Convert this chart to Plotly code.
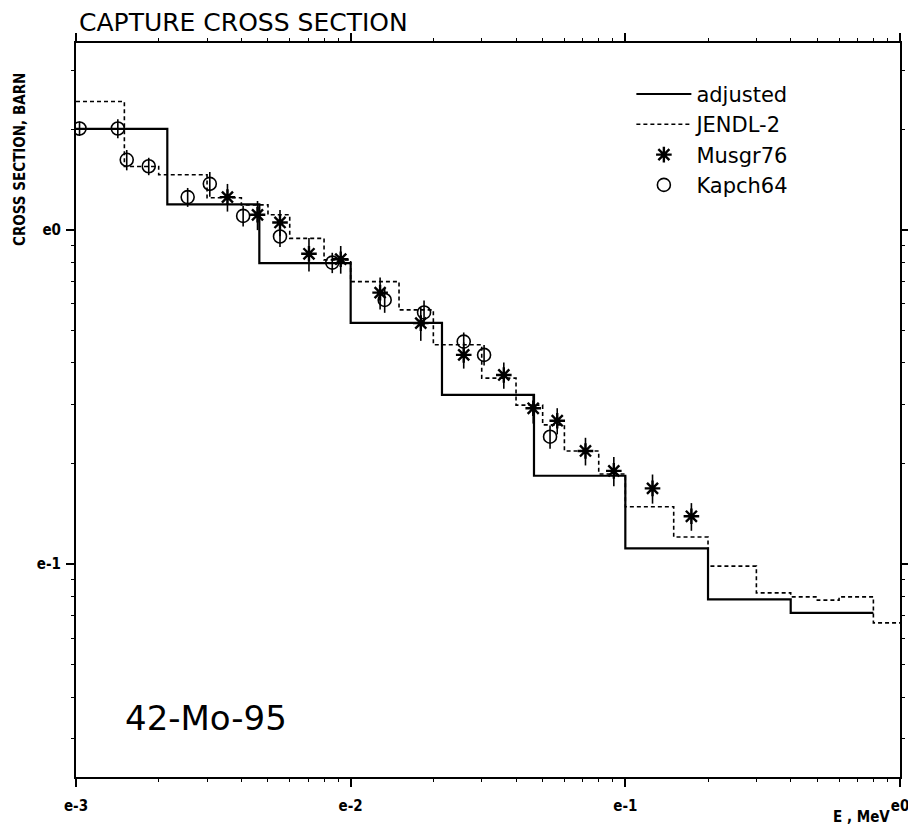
import plotly.graph_objects as go

# ---- group-wise capture cross sections (E in MeV, sigma in barn) ----
adj_bounds = [1e-3, 2.15e-3, 4.65e-3, 1e-2, 2.15e-2, 4.65e-2, 0.1, 0.2, 0.4, 0.8]
adj_sigma = [2.006, 1.192, 0.795, 0.527, 0.3206, 0.1838, 0.1114, 0.0784, 0.0715]

jendl_bounds = [1e-3, 1.5e-3, 2e-3, 3e-3, 4e-3, 5e-3, 6e-3, 8e-3, 1e-2,
                1.5e-2, 2e-2, 3e-2, 4e-2, 5e-2, 6e-2, 8e-2, 0.1,
                0.15, 0.2, 0.3, 0.4, 0.5, 0.6, 0.8, 1.0]
jendl_sigma = [2.42, 1.547, 1.461, 1.247, 1.188, 1.109, 0.943, 0.813,
               0.700, 0.576, 0.453, 0.360, 0.299, 0.261, 0.218, 0.186,
               0.1485, 0.1205, 0.0986, 0.0820, 0.0798, 0.0780, 0.0798, 0.0667]

# ---- measurements ----
musgr_e = [3.56e-3, 4.58e-3, 5.53e-3, 7.05e-3, 9.2e-3, 1.28e-2, 1.80e-2, 2.58e-2,
           3.61e-2, 4.62e-2, 5.65e-2, 7.16e-2, 9.08e-2, 0.1256, 0.174]
musgr_sigma = [1.253, 1.109, 1.052, 0.848, 0.817, 0.649, 0.526, 0.4225,
               0.368, 0.2925, 0.2685, 0.218, 0.190, 0.1685, 0.139]
musgr_err_pct = [9.5, 10, 9, 11.5, 9.5, 11, 11.5, 9, 9, 10, 9, 9.5, 10, 10, 9.5]

kapch_e = [1.03e-3, 1.42e-3, 1.53e-3, 1.84e-3, 2.55e-3, 3.07e-3, 4.06e-3,
           5.53e-3, 8.57e-3, 1.33e-2, 1.85e-2, 2.58e-2, 3.06e-2, 5.32e-2]
kapch_sigma = [2.01, 2.01, 1.62, 1.55, 1.253, 1.373, 1.101,
               0.955, 0.798, 0.617, 0.566, 0.463, 0.4225, 0.2405]
kapch_err_pct = [5, 6.5, 7, 6, 6.5, 8.5, 7, 7, 7, 8.5, 8.5, 6.5, 7, 8]

x_tickvals = [1e-3, 1e-2, 1e-1, 1.0]
x_ticktext = ["e-3", "e-2", "e-1", "e0"]
y_tickvals = [0.1, 1.0]
y_ticktext = ["e-1", "e0"]

# intermediate decade ticks (2..9 in each decade)
x_minor = [k * 10.0 ** d for d in (-3, -2, -1) for k in range(2, 10)]
y_minor = [k * 10.0 ** d for d in (-2, -1, 0) for k in range(2, 10)
           if 0.0231 < k * 10.0 ** d < 3.6]

THIN = "DejaVu Sans"
BOLD = "DejaVu Sans Condensed, DejaVu Sans"


def step_xy(bounds, vals):
    # horizontal-then-vertical staircase over the group boundaries
    return list(bounds), list(vals) + [vals[-1]]


fig = go.Figure()

ax, ay = step_xy(adj_bounds, adj_sigma)
fig.add_trace(go.Scatter(x=ax, y=ay, mode="lines", line_shape="hv",
                         line=dict(color="black", width=2.2),
                         name="adjusted"))

jx, jy = step_xy(jendl_bounds, jendl_sigma)
fig.add_trace(go.Scatter(x=jx, y=jy, mode="lines", line_shape="hv",
                         line=dict(color="black", width=1.6, dash="4px,3px"),
                         name="JENDL-2"))

fig.add_trace(go.Scatter(
    x=musgr_e, y=musgr_sigma, mode="markers", name="Musgr76",
    marker=dict(symbol="asterisk-open", size=13, color="black",
                line=dict(color="black", width=2.4)),
    error_y=dict(type="data", array=[s * p / 100 for s, p in zip(musgr_sigma, musgr_err_pct)],
                 color="black", thickness=1.6, width=0)))

fig.add_trace(go.Scatter(
    x=kapch_e, y=kapch_sigma, mode="markers", name="Kapch64",
    marker=dict(symbol="circle-open", size=13, color="black",
                line=dict(color="black", width=1.6)),
    error_y=dict(type="data", array=[s * p / 100 for s, p in zip(kapch_sigma, kapch_err_pct)],
                 color="black", thickness=1.6, width=0)))

axis_common = dict(
    type="log", showgrid=False, zeroline=False, automargin=False,
    showline=True, linecolor="black", linewidth=2, mirror="allticks",
    ticks="outside", ticklen=8, tickwidth=1.5, tickcolor="black",
    ticklabeloverflow="allow",
    tickfont=dict(family=BOLD, size=15, color="black", weight="bold"),
)

fig.update_layout(
    width=908, height=828,
    margin=dict(l=76, r=8, t=43, b=51, autoexpand=False),
    paper_bgcolor="white", plot_bgcolor="white",
    xaxis=dict(axis_common, range=[-3, 0], tickmode="array",
               tickvals=x_tickvals, ticktext=x_ticktext, ticklabelstandoff=6,
               minor=dict(tickmode="array", tickvals=x_minor, ticks="outside",
                          ticklen=3, tickwidth=1.2, tickcolor="black", showgrid=False)),
    yaxis=dict(axis_common, range=[-1.637, 0.559], tickmode="array",
               tickvals=y_tickvals, ticktext=y_ticktext, ticklabelstandoff=2,
               minor=dict(tickmode="array", tickvals=y_minor, ticks="outside",
                          ticklen=3, tickwidth=1.2, tickcolor="black", showgrid=False)),
    showlegend=True,
    legend=dict(x=0.674, y=0.958, xanchor="left", yanchor="top",
                bgcolor="rgba(0,0,0,0)", borderwidth=0,
                font=dict(family=THIN, size=21, color="black"),
                itemwidth=55, tracegroupgap=0),
    annotations=[
        dict(text="CAPTURE CROSS SECTION", xref="paper", yref="paper",
             x=0.001, y=1.0286, xanchor="left", yanchor="middle", showarrow=False,
             font=dict(family=THIN, size=25, color="black")),
        dict(text="CROSS SECTION, BARN", xref="paper", yref="paper",
             x=-0.068, y=0.842, xanchor="center", yanchor="middle", textangle=-90,
             showarrow=False,
             font=dict(family=BOLD, size=15, color="black", weight="bold")),
        dict(text="E , MeV", xref="paper", yref="paper",
             x=0.953, y=-0.0545, xanchor="center", yanchor="middle", showarrow=False,
             font=dict(family=BOLD, size=15, color="black", weight="bold")),
        dict(text="42-Mo-95", xref="paper", yref="paper",
             x=0.158, y=0.080, xanchor="center", yanchor="middle", showarrow=False,
             font=dict(family=THIN, size=34, color="black")),
    ],
)

fig.write_html("out.html")
